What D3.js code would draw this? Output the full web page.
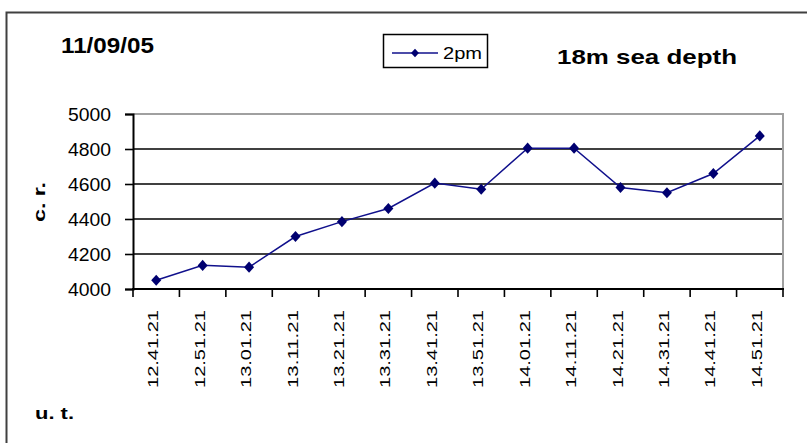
<!DOCTYPE html>
<html>
<head>
<meta charset="utf-8">
<script src="https://cdn.jsdelivr.net/npm/d3@7"></script>
<style>
  body { margin: 0; background: #fff; }
  text { font-family: "Liberation Sans", Arial, sans-serif; }
</style>
</head>
<body>
<div id="chart"></div>
<script>
// data
const times = ["12.41.21", "12.51.21", "13.01.21", "13.11.21", "13.21.21", "13.31.21", "13.41.21",
               "13.51.21", "14.01.21", "14.11.21", "14.21.21", "14.31.21", "14.41.21", "14.51.21"]
const counts2pm = [4050, 4135, 4125, 4300, 4385, 4460, 4605, 4570, 4805, 4805, 4580, 4550, 4660, 4875]
const yTicks = [4000, 4200, 4400, 4600, 4800, 5000]

const W = 807, H = 443
const plot = {left: 133, right: 783, top: 114, bottom: 289}

const svg = d3.select("#chart").append("svg")
    .attr("width", W).attr("height", H)

svg.append("rect").attr("width", W).attr("height", H).attr("fill", "#fff")

// outer chart border (runs off the right and bottom edges)
svg.append("rect")
    .attr("x", 6.5).attr("y", 12.5)
    .attr("width", W + 10).attr("height", H + 10)
    .attr("fill", "none").attr("stroke", "#404040").attr("stroke-width", 2)

const x = d3.scaleBand().domain(times).range([plot.left, plot.right]).padding(0)
const y = d3.scaleLinear().domain([4000, 5000]).range([plot.bottom, plot.top])

// gridlines
svg.append("g").selectAll("line")
    .data(yTicks.filter(d => d > 4000 && d < 5000))
    .join("line")
    .attr("x1", plot.left).attr("x2", plot.right)
    .attr("y1", d => y(d)).attr("y2", d => y(d))
    .attr("stroke", "#000").attr("stroke-width", 1.6)

// plot frame top / right (grey)
svg.append("path")
    .attr("d", `M${plot.left},${y(5000)}H${plot.right}V${plot.bottom}`)
    .attr("fill", "none").attr("stroke", "#a0a0a0").attr("stroke-width", 2)

// y axis
const yAxis = svg.append("g")
    .attr("transform", `translate(${plot.left},0)`)
    .call(d3.axisLeft(y).tickValues(yTicks).tickSize(8).tickPadding(14).tickFormat(d3.format("d")))
yAxis.select(".domain").attr("stroke", "#000").attr("stroke-width", 2)
yAxis.selectAll(".tick line").attr("stroke", "#000").attr("stroke-width", 1.6)
yAxis.selectAll(".tick text")
    .attr("font-size", 19).attr("fill", "#000")
    .attr("font-family", "'Liberation Sans', Arial, sans-serif")
    .attr("textLength", 43).attr("lengthAdjust", "spacingAndGlyphs")

// x axis: ticks at category boundaries, labels rotated
const xAxis = svg.append("g").attr("transform", `translate(0,${plot.bottom})`)
xAxis.append("line")
    .attr("x1", plot.left - 1).attr("x2", plot.right + 1)
    .attr("stroke", "#000").attr("stroke-width", 2)
xAxis.selectAll(".bt")
    .data(times.map(d => x(d)).concat([plot.right]))
    .join("line").attr("class", "bt")
    .attr("x1", d => d).attr("x2", d => d)
    .attr("y1", 0).attr("y2", 8)
    .attr("stroke", "#000").attr("stroke-width", 1.6)
xAxis.selectAll(".lab")
    .data(times)
    .join("text").attr("class", "lab")
    .attr("transform", d => `translate(${x(d) + x.bandwidth() / 2 + 2},21) rotate(-90)`)
    .attr("text-anchor", "end")
    .attr("font-size", 14.5)
    .attr("textLength", 78).attr("lengthAdjust", "spacingAndGlyphs")
    .attr("fill", "#000")
    .text(d => d)

// series
const cx = d => x(d) + x.bandwidth() / 2
svg.append("path")
    .datum(counts2pm)
    .attr("fill", "none").attr("stroke", "#10108c").attr("stroke-width", 1.5)
    .attr("d", d3.line().x((d, i) => cx(times[i])).y(d => y(d)))

const marker = d3.symbol().type(d3.symbolDiamond2).size(64)
svg.append("g").selectAll("path")
    .data(counts2pm)
    .join("path")
    .attr("transform", (d, i) => `translate(${cx(times[i])},${y(d)}) scale(1,1.1)`)
    .attr("d", marker)
    .attr("fill", "#000070")

// titles
svg.append("text")
    .attr("x", 61).attr("y", 53)
    .attr("font-size", 22).attr("font-weight", "bold")
    .attr("textLength", 93).attr("lengthAdjust", "spacingAndGlyphs")
    .text("11/09/05")

svg.append("text")
    .attr("x", 557).attr("y", 64)
    .attr("font-size", 21).attr("font-weight", "bold")
    .attr("textLength", 180).attr("lengthAdjust", "spacingAndGlyphs")
    .text("18m sea depth")

svg.append("text")
    .attr("transform", "translate(45,202) rotate(-90)")
    .attr("text-anchor", "middle")
    .attr("font-size", 17).attr("font-weight", "bold")
    .attr("textLength", 40).attr("lengthAdjust", "spacingAndGlyphs")
    .text("c. r.")

svg.append("text")
    .attr("x", 35).attr("y", 419)
    .attr("font-size", 17).attr("font-weight", "bold")
    .attr("textLength", 39).attr("lengthAdjust", "spacingAndGlyphs")
    .text("u. t.")

// legend
const legend = svg.append("g")
legend.append("rect")
    .attr("x", 383.5).attr("y", 34.5).attr("width", 104).attr("height", 33)
    .attr("fill", "#fff").attr("stroke", "#000").attr("stroke-width", 1.5)
legend.append("line")
    .attr("x1", 392).attr("x2", 438).attr("y1", 53).attr("y2", 53)
    .attr("stroke", "#10108c").attr("stroke-width", 1.5)
legend.append("path")
    .attr("transform", "translate(415,53) scale(1,1.1)")
    .attr("d", d3.symbol().type(d3.symbolDiamond2).size(40)).attr("fill", "#000070")
legend.append("text")
    .attr("x", 443).attr("y", 59)
    .attr("font-size", 16.5)
    .attr("textLength", 39).attr("lengthAdjust", "spacingAndGlyphs")
    .text("2pm")
</script>
</body>
</html>
